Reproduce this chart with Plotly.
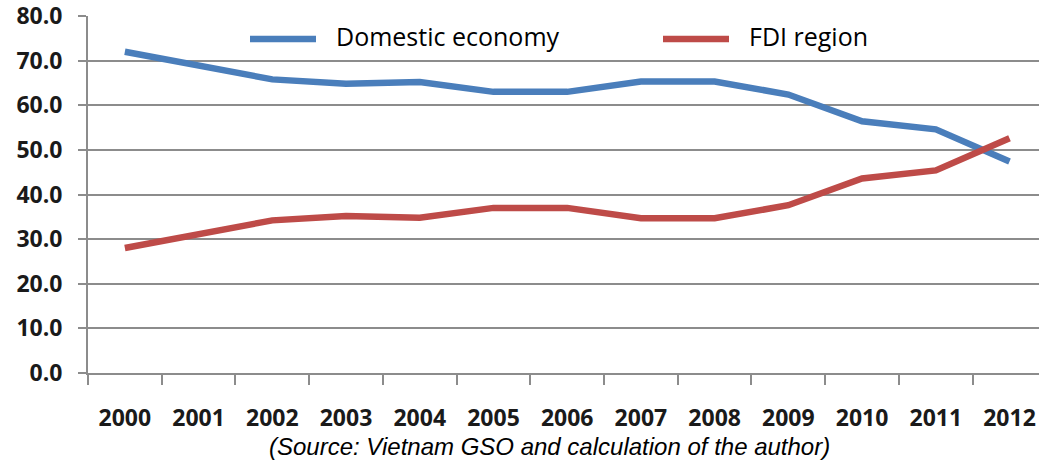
import plotly.graph_objects as go

# Shares of the two sectors, in percent
years = ["2000", "2001", "2002", "2003", "2004", "2005", "2006",
         "2007", "2008", "2009", "2010", "2011", "2012"]
domestic = [72.0, 69.0, 65.8, 64.8, 65.2, 63.0, 63.0, 65.3, 65.3, 62.4, 56.4, 54.6, 47.4]
fdi = [28.0, 31.0, 34.2, 35.2, 34.8, 37.0, 37.0, 34.7, 34.7, 37.6, 43.6, 45.4, 52.6]

series_names = ["Domestic economy", "FDI region"]
series_colors = ["#4a7ebb", "#be4b48"]
y_ticks = [0, 10, 20, 30, 40, 50, 60, 70, 80]
caption = "(Source: Vietnam GSO and calculation of the author)"

W, H = 1039, 466
ML, MR, MT, MB = 88, 0, 16, 93

fig = go.Figure()
for name, vals, col in zip(series_names, [domestic, fdi], series_colors):
    fig.add_trace(go.Scatter(
        x=years, y=vals, name=name, mode="lines",
        line=dict(color=col, width=6.5),
        showlegend=False,
    ))

grid_col = "#8c8c8c"
label_font = dict(family="Open Sans", size=23, color="#1a1a1a", weight="bold")

fig.update_layout(
    width=W, height=H,
    margin=dict(l=ML, r=MR, t=MT, b=MB),
    paper_bgcolor="white", plot_bgcolor="white",
    xaxis=dict(
        type="category",
        range=[-0.5, 12.4],
        showgrid=False,
        showline=True, linecolor=grid_col, linewidth=2,
        ticks="outside", tickson="boundaries", ticklen=10,
        tickcolor=grid_col, tickwidth=2,
        tickfont=label_font,
        ticklabelstandoff=23,
        zeroline=False,
    ),
    yaxis=dict(
        range=[0, 80],
        tickvals=y_ticks,
        ticktext=[f"{v:.1f}" for v in y_ticks],
        showgrid=True, gridcolor=grid_col, gridwidth=2,
        showline=True, linecolor=grid_col, linewidth=2,
        ticks="outside", ticklen=8, tickcolor=grid_col, tickwidth=2,
        tickfont=label_font,
        ticklabelstandoff=11,
        ticklabeloverflow="allow",
        zeroline=False,
    ),
)

# Legend drawn as a white band with long line keys
fig.add_shape(type="rect", xref="paper", yref="paper",
              x0=(230 - ML) / (W - ML - MR), x1=(900 - ML) / (W - ML - MR),
              y0=1 - (58 - MT) / (H - MT - MB), y1=1 - (19 - MT) / (H - MT - MB),
              fillcolor="white", line=dict(width=0), layer="above")
legend_x = [250, 663]
for name, col, lx in zip(series_names, series_colors, legend_x):
    fig.add_shape(type="line", xref="paper", yref="paper",
                  x0=(lx - ML) / (W - ML - MR), x1=(lx + 66 - ML) / (W - ML - MR),
                  y0=1 - (39 - MT) / (H - MT - MB), y1=1 - (39 - MT) / (H - MT - MB),
                  line=dict(color=col, width=6.5), layer="above")
    fig.add_annotation(xref="paper", yref="paper",
                       x=(lx + 84 - ML) / (W - ML - MR), y=1 - (36 - MT) / (H - MT - MB),
                       xanchor="left", yanchor="middle", showarrow=False,
                       text=name, font=dict(family="Open Sans", size=25, color="#000000"))

fig.add_annotation(xref="paper", yref="paper",
                   x=(549 - ML) / (W - ML - MR), y=1 - (446 - MT) / (H - MT - MB),
                   xanchor="center", yanchor="middle", showarrow=False,
                   text=caption,
                   font=dict(family="Liberation Sans", size=24, color="#000000", style="italic"))

fig.write_html("out.html")
